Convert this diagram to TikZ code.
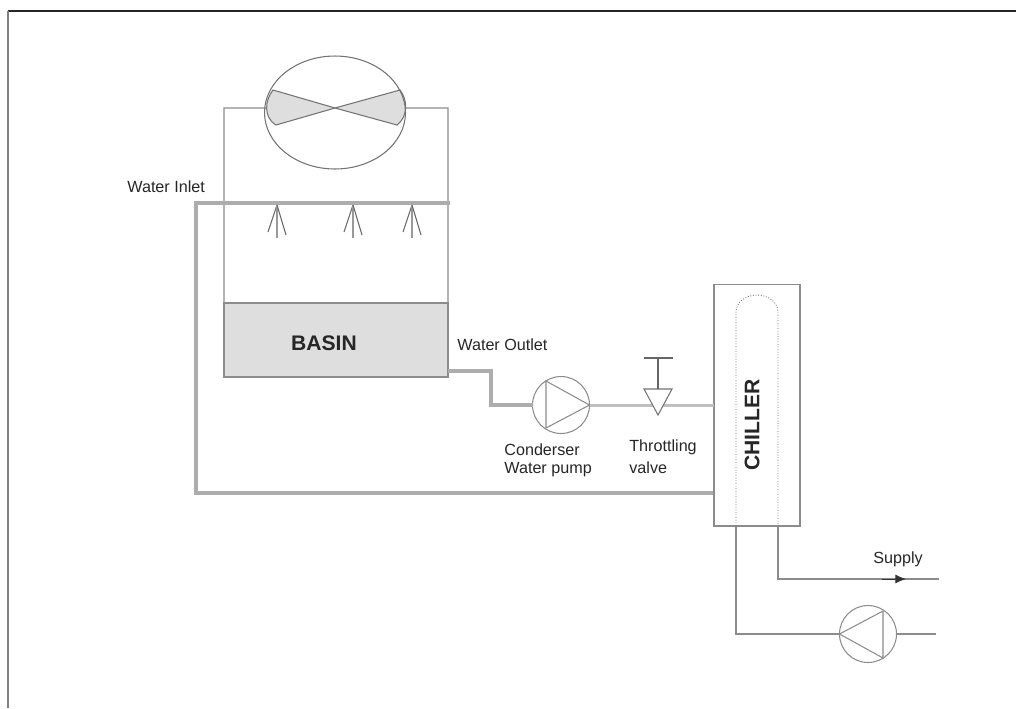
\documentclass[tikz,border=0pt]{standalone}
\usepackage{fontspec}
\setmainfont{Liberation Sans}
\usetikzlibrary{calc,shapes.geometric,arrows.meta}
\definecolor{linegray}{gray}{0.55}
\definecolor{pipegray}{gray}{0.68}
\definecolor{midgray}{gray}{0.75}
\definecolor{fillgray}{gray}{0.87}
\tikzset{
	thinline/.style={draw=linegray, line width=0.6pt},
	pipe/.style={draw=pipegray, line width=2.3pt},
	midpipe/.style={draw=midgray, line width=1.7pt},
	pumpcircle/.style={circle, draw=linegray, line width=0.6pt, minimum size=1.14cm, inner sep=0pt, outer sep=0pt},
	lbl/.style={font=\fontsize{9.2}{10}\selectfont, text=black!85, inner sep=0pt, anchor=west},
	biglbl/.style={font=\fontsize{12}{14}\bfseries\selectfont, text=black!85, inner sep=0pt}
}

\begin{document}
\begin{tikzpicture}[x=0.02cm, y=-0.02cm]
	\useasboundingbox (0,0) rectangle (1016,708);
	\draw[black!85, line width=0.7pt] (8,11)--(1016,11);
	\draw[black!50, line width=0.9pt] (8,11)--(8,708);

	\node[fill=fillgray, draw=linegray, line width=0.6pt, minimum width=4.48cm, minimum height=1.48cm, inner sep=0pt, outer sep=0pt] (basin) at (336,340) {};
	\node[biglbl] at (324,343) {BASIN};

	\coordinate (T1) at (224,108);
	\coordinate (T2) at (448,108);
	\coordinate (F1) at (266,108);
	\coordinate (F2) at (405,108);
	\draw[thinline] (F1)--(T1)--(basin.north west);
	\draw[thinline] (F2)--(T2)--(basin.north east);

	\coordinate (FC) at (335,108);
	\draw[fill=fillgray, draw=black!55, line width=0.6pt] (FC)--(273,90) .. controls (265,100) and (263,117) .. (276,125)--cycle;
	\draw[fill=fillgray, draw=black!55, line width=0.6pt] (FC)--(400,90) .. controls (408,100) and (408,117) .. (397,125)--cycle;
	\node[ellipse, draw=black!55, line width=0.6pt, minimum width=2.82cm, minimum height=2.26cm, inner sep=0pt] (fan) at (335,112.5) {};

	\coordinate (I1) at (450,203);
	\coordinate (I2) at (196,203);
	\coordinate (I3) at (196,493);
	\draw[pipe] (I1)--(I2)--(I3)--(714,493);

	\foreach \nx in {277,353,412}{
		\draw[black!60, line width=0.6pt] (\nx,205)--(\nx-9,232);
		\draw[black!40, line width=0.6pt] (\nx,205)--(\nx,238);
		\draw[black!60, line width=0.6pt] (\nx,205)--(\nx+9,235);
	}

	\node[pumpcircle] (P1) at (561,405) {};
	\draw[thinline] (546,381)--(546,428)--(P1.east)--cycle;
	\coordinate (O1) at (448,371);
	\coordinate (O2) at (491,371);
	\coordinate (O3) at (491,405);
	\draw[pipe] (O1)--(O2)--(O3)--(P1.west);

	\node[draw=linegray, line width=0.6pt, minimum width=1.72cm, minimum height=4.84cm, inner sep=0pt, outer sep=0pt] (chiller) at (757,405) {};
	\draw[midpipe] (P1.east)--(chiller.west);

	\coordinate (V1) at (644,389);
	\coordinate (V2) at (672,389);
	\coordinate (V3) at (658,415);
	\draw[fill=white, draw=black!55, line width=0.6pt] (V1)--(V2)--(V3)--cycle;
	\coordinate (V4) at (658,358);
	\draw[black!60, line width=0.8pt] ($(V1)!0.5!(V2)$)--(V4);
	\draw[black!60, line width=0.8pt] (644,358)--(673,358);

	\coordinate (U1) at (736,526);
	\coordinate (U2) at (778,526);
	\draw[black!55, line width=0.5pt, densely dotted] (U1)--(736,312) arc (180:360:21 and 17)--(U2);
	\node[biglbl, rotate=90] at (752,425) {CHILLER};

	\coordinate (S1) at (778,579);
	\coordinate (S2) at (939,579);
	\draw[thinline] (U2)--(S1)--(S2);
	\draw[black!80, line width=0.4pt, -{Latex[length=6pt,width=5pt]}] (882,579)--(906,579);
	\node[lbl, anchor=center] at (898,559) {Supply};

	\node[pumpcircle] (P2) at (868,634) {};
	\draw[thinline] (883,611)--(883,658)--(P2.west)--cycle;
	\coordinate (R1) at (736,634);
	\coordinate (R2) at (936,634);
	\draw[thinline] (U1)--(R1)--(P2.west);
	\draw[thinline] (P2.east)--(R2);

	\node[lbl] at (127,187) {Water Inlet};
	\node[lbl] at (457,345) {Water Outlet};
	\node[lbl] at (504,450) {Conderser};
	\node[lbl] at (504,470) {Water pump};
	\node[lbl] at (629,447) {Throttling};
	\node[lbl] at (629,468) {valve};
\end{tikzpicture}
\end{document}
